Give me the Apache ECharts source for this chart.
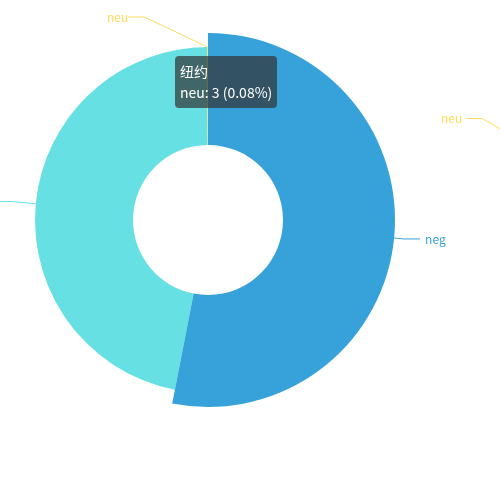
<!DOCTYPE html>
<html>
<head>
<meta charset="utf-8">
<script src="https://cdn.jsdelivr.net/npm/echarts@6/dist/echarts.min.js"></script>
<style>
  html, body { margin: 0; padding: 0; background: #fff; }
  #main { width: 500px; height: 477px; }
</style>
</head>
<body>
<div id="main"></div>
<script>
// 情感类别
var categories = ['neg', 'pos', 'neu'];
var colors = ['#37A2DA', '#67E0E3', '#FFDB5C'];
// 纽约
var nyValues = [1990, 1757, 3];
// 右侧（画面外）的另一个城市
var otherValues = [1800, 1800, 3];

function toData(values) {
  return categories.map(function (name, i) {
    return {
      name: name,
      value: values[i],
      itemStyle: { color: colors[i] },
      label: { color: colors[i] },
      labelLine: { lineStyle: { color: colors[i] } },
      emphasis: { itemStyle: { color: colors[i] }, label: { color: colors[i] } }
    };
  });
}

var myChart = echarts.init(document.getElementById('main'));
var option = {
  animation: false,
  tooltip: {
    trigger: 'item',
    formatter: '{a}<br/>{b}: {c} ({d}%)',
    backgroundColor: 'rgba(50,50,50,0.7)',
    borderWidth: 0,
    padding: 5,
    textStyle: { color: '#fff', fontSize: 14, fontFamily: 'Noto Sans CJK SC' },
    extraCssText: 'box-shadow:none;border-radius:4px;line-height:21px;',
    position: [175, 56]
  },
  series: [
    {
      name: '纽约',
      type: 'pie',
      center: [208, 220],
      radius: [75, 173],
      label: { fontSize: 12, fontFamily: 'Noto Sans CJK SC' },
      labelLine: { length: 24, length2: 16 },
      labelLayout: function (params) {
        // 顶部的 neu 标签往左上偏移
        if (params.dataIndex === 2) {
          return { x: 107, y: 17, align: 'left', verticalAlign: 'middle' };
        }
      },
      emphasis: { scale: true, scaleSize: 14 },
      data: toData(nyValues)
    },
    {
      name: '伦敦',
      type: 'pie',
      center: [680, 232],
      radius: [75, 173],
      startAngle: 150,
      label: { fontSize: 12, fontFamily: 'Noto Sans CJK SC' },
      labelLine: { length: 55, length2: 15 },
      data: toData(otherValues)
    }
  ]
};
myChart.setOption(option);
myChart.dispatchAction({ type: 'highlight', seriesIndex: 0, dataIndex: 0 });
myChart.dispatchAction({ type: 'showTip', seriesIndex: 0, dataIndex: 2 });
</script>
</body>
</html>
